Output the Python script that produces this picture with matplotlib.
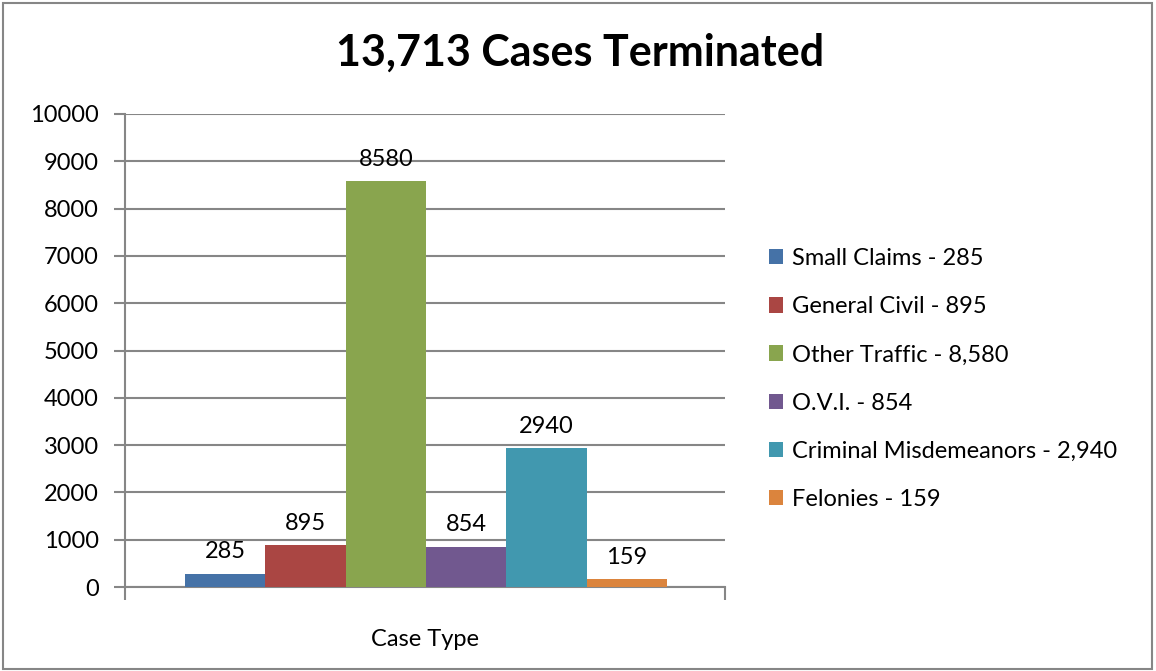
import matplotlib
matplotlib.use("Agg")
import matplotlib.pyplot as plt
from matplotlib.patches import Rectangle, Patch

categories = ["Small Claims", "General Civil", "Other Traffic", "O.V.I.",
              "Criminal Misdemeanors", "Felonies"]
values = [285, 895, 8580, 854, 2940, 159]
legend_values = ["285", "895", "8,580", "854", "2,940", "159"]
colors = ["#4572A7", "#AA4643", "#89A54E", "#71588F", "#4198AF", "#DB843D"]
title = "13,713 Cases Terminated"
xlabel = "Case Type"
yticks = list(range(0, 10001, 1000))

plt.rcParams['font.family'] = ['Lato', 'DejaVu Sans']

fig = plt.figure(figsize=(11.56, 6.71), dpi=100)
ax = fig.add_axes([125/1156, 1-587/671, 600/1156, 473/671])

width = 0.8033 / len(values)
start = 0.1
handles = []
for i, (c, v, col, lv) in enumerate(zip(categories, values, colors, legend_values)):
    b = ax.bar(start + width*(i+0.5), v, width=width, color=col, zorder=3)
    ax.bar_label(b, labels=[str(v)], padding=8, fontsize=17, color="#000000")
    handles.append(Patch(facecolor=col, label=f"{c} - {lv}"))

ax.set_xlim(0, 1)
ax.set_ylim(0, 10000)
ax.set_yticks(yticks)
ax.set_yticklabels([str(t) for t in yticks], fontsize=17)
ax.yaxis.grid(True, color="#868686", linewidth=1.5, zorder=0)
ax.set_axisbelow(True)

ax.set_xticks([0.5])
ax.set_xticklabels([xlabel], fontsize=17)
ax.tick_params(axis='x', which='major', length=0, pad=30)
ax.set_xticks([0, 1], minor=True)
ax.tick_params(axis='x', which='minor', length=9, width=1.5, color="#868686")
ax.tick_params(axis='y', length=8, width=1.5, color="#868686", pad=11)

for s in ["top", "right"]:
    ax.spines[s].set_visible(False)
for s in ["left", "bottom"]:
    ax.spines[s].set_color("#868686")
    ax.spines[s].set_linewidth(1.5)

fig.text(580/1156, 1-53/671, title, ha="center", va="center", fontsize=31, fontweight="bold")

leg = fig.legend(handles=handles, loc="center left",
                 bbox_to_anchor=(757/1156, 1-379/671), frameon=False,
                 fontsize=17, handlelength=0.62, handleheight=0.62,
                 handletextpad=0.35, labelspacing=1.15, borderpad=0)

fig.patches.append(Rectangle((3/1156, 2/671), 1149/1156, 666/671,
                             transform=fig.transFigure, fill=False,
                             edgecolor="#868686", linewidth=1.5))

fig.savefig("out.png", dpi=100)
